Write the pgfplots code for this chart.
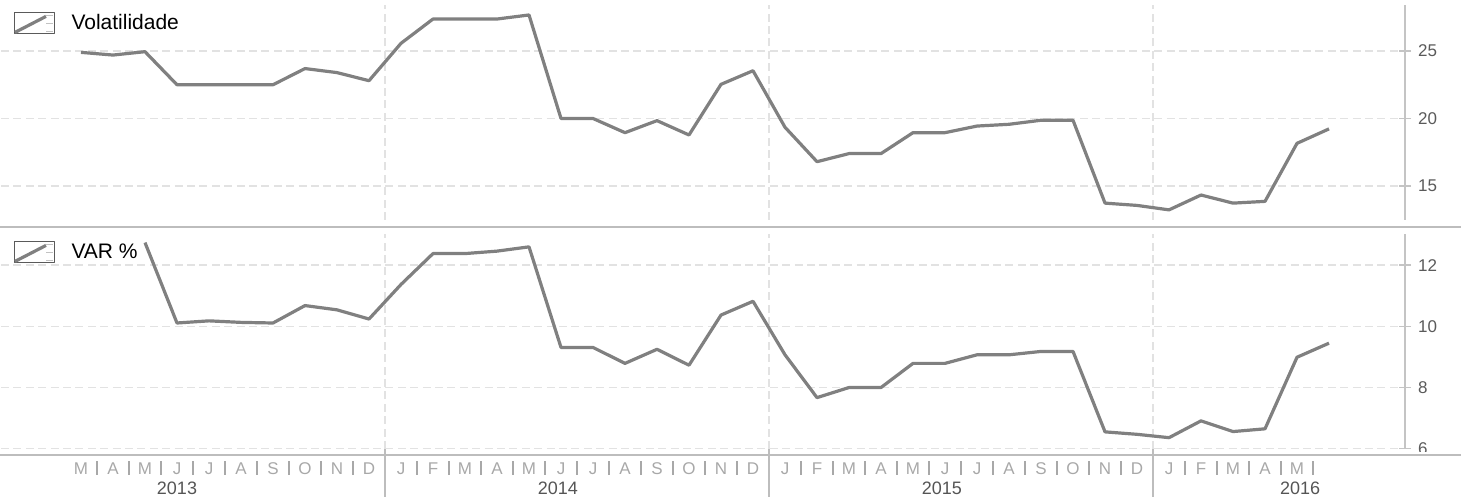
\documentclass[border=0pt]{standalone}
\usepackage{pgfplots}
\pgfplotsset{compat=1.18}
\usepackage{fontspec}
\setmainfont{Liberation Sans}
\definecolor{cline}{HTML}{808080}
\definecolor{cgrid}{HTML}{E2E2E2}
\definecolor{caxis}{HTML}{C4C4C4}
\definecolor{ctick}{HTML}{5A5A5A}
\definecolor{cmonth}{HTML}{A8A8A8}
\definecolor{cyear}{HTML}{555555}
\definecolor{csep}{HTML}{BDBDBD}

\pgfplotstableread{
x y
2.5 24.9
3.5 24.7
4.5 24.95
5.5 22.5
6.5 22.5
7.5 22.5
8.5 22.5
9.5 23.7
10.5 23.4
11.5 22.8
12.5 25.57
13.5 27.37
14.5 27.37
15.5 27.37
16.5 27.67
17.5 20.0
18.5 20.0
19.5 18.95
20.5 19.84
21.5 18.78
22.5 22.53
23.5 23.54
24.5 19.35
25.5 16.8
26.5 17.4
27.5 17.4
28.5 18.95
29.5 18.95
30.5 19.44
31.5 19.57
32.5 19.87
33.5 19.87
34.5 13.73
35.5 13.56
36.5 13.23
37.5 14.33
38.5 13.73
39.5 13.86
40.5 18.16
41.5 19.23
}\vol

\pgfplotstableread{
x y
4.5 12.74
5.5 10.11
6.5 10.18
7.5 10.13
8.5 10.11
9.5 10.68
10.5 10.54
11.5 10.24
12.5 11.37
13.5 12.38
14.5 12.38
15.5 12.46
16.5 12.60
17.5 9.31
18.5 9.31
19.5 8.79
20.5 9.25
21.5 8.73
22.5 10.37
23.5 10.82
24.5 9.07
25.5 7.67
26.5 8.00
27.5 8.00
28.5 8.79
29.5 8.79
30.5 9.07
31.5 9.07
32.5 9.18
33.5 9.18
34.5 6.55
35.5 6.47
36.5 6.36
37.5 6.91
38.5 6.56
39.5 6.65
40.5 8.99
41.5 9.45
}\var

\pgfplotsset{
 panel/.style={
   scale only axis, width=702pt, height=107.5pt,
   xmin=0, xmax=43.875,
   axis x line*=bottom, x axis line style={draw=none},
   axis y line*=right, y axis line style={draw=caxis, line width=1pt},
   yticklabel pos=right,
   tick align=center, major tick length=6pt,
   major y tick style={draw=caxis, line width=0.8pt},
   major x tick style={draw=none},
   yticklabel style={font=\fontsize{8.5}{10}\selectfont, text=ctick, /pgf/number format/assume math mode=true},
   grid style={draw=cgrid, line width=0.8pt, dash pattern=on 4pt off 2.2pt},
   ymajorgrids,
   clip mode=individual,
   legend style={at={(0,1)}, anchor=north west, xshift=6pt, yshift=-3.5pt, draw=none, fill=white, inner sep=0pt, column sep=8.5pt, font=\fontsize{10.5}{12}\selectfont, nodes={inner sep=0pt}},
   legend image code/.code={
     \draw[draw=ctick, line width=0.5pt, solid] (0pt,-5.25pt) rectangle (20pt,5.25pt);
     \draw[cline, line width=1.6pt, solid] (0.5pt,-4.5pt) -- (16pt,3.5pt);
     \draw[cmonth!70, line width=0.8pt, solid] (16pt,4pt) -- (19.5pt,4pt) (16pt,0pt) -- (19.5pt,0pt) (16pt,-4pt)--(19.5pt,-4pt);
   },
 },
 dataline/.style={cline, line width=1.6pt, line join=round, mark=none},
}

\begin{document}
\begin{tikzpicture}
\useasboundingbox (0,0) rectangle (730.5pt,248.5pt);
\begin{axis}[panel, at={(0.5pt,138.5pt)}, anchor=south west,
  ymin=12.48, ymax=28.41, ytick={15,20,25},
  xtick={12,24,36}, xticklabels={}, xmajorgrids]
\addplot[dataline] table[x=x,y=y] {\vol};
\addlegendentry{Volatilidade}
\end{axis}

\begin{axis}[panel, at={(0.5pt,24pt)}, anchor=south west,
  ymin=5.99, ymax=13.02, ytick={6,8,10,12},
  xtick={2.5,3.5,...,40.5},
  xticklabels={M,A,M,J,J,A,S,O,N,D,J,F,M,A,M,J,J,A,S,O,N,D,J,F,M,A,M,J,J,A,S,O,N,D,J,F,M,A,M},
  xticklabel style={anchor=base, yshift=-10pt, font=\fontsize{8.5}{10}\selectfont, text=cmonth},
  minor xtick={3,4,5,6,7,8,9,10,11,13,14,15,16,17,18,19,20,21,22,23,25,26,27,28,29,30,31,32,33,34,35,37,38,39,40,41},
  minor tick length=7pt,
  minor x tick style={draw=cmonth, line width=0.6pt, yshift=-9.3pt},
  extra x ticks={12,24,36}, extra x tick labels={},
  extra x tick style={grid=major, tick align=outside, major tick length=24pt, major x tick style={draw=csep, line width=1pt}},
  ]
\addplot[dataline] table[x=x,y=y] {\var};
\addlegendentry{VAR \%}
\node[anchor=center, text=cyear, font=\fontsize{9}{10}\selectfont, yshift=-19.5pt] at (axis cs:5.5,5.99) {2013};
\node[anchor=center, text=cyear, font=\fontsize{9}{10}\selectfont, yshift=-19.5pt] at (axis cs:17.4,5.99) {2014};
\node[anchor=center, text=cyear, font=\fontsize{9}{10}\selectfont, yshift=-19.5pt] at (axis cs:29.4,5.99) {2015};
\node[anchor=center, text=cyear, font=\fontsize{9}{10}\selectfont, yshift=-19.5pt] at (axis cs:40.6,5.99) {2016};
\end{axis}

\fill[white] (702pt,19pt) rectangle (730.5pt,22.5pt);
\draw[csep, line width=1pt] (0pt,135pt) -- (730.5pt,135pt);
\draw[csep, line width=1pt] (0pt,21pt) -- (730.5pt,21pt);
\end{tikzpicture}
\end{document}
